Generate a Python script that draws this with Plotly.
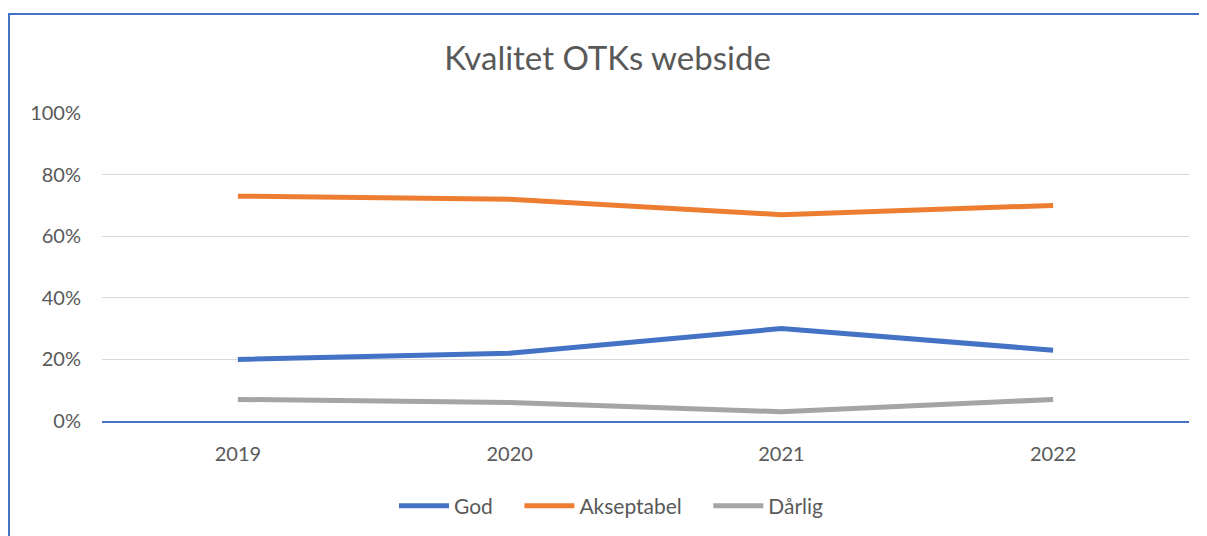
import plotly.graph_objects as go

years = ["2019", "2020", "2021", "2022"]
god = [0.20, 0.22, 0.30, 0.23]
akseptabel = [0.73, 0.72, 0.67, 0.70]
darlig = [0.07, 0.06, 0.03, 0.07]
series_names = ["God", "Akseptabel", "Dårlig"]

OFF = 8  # page body margin
W, H = 1207 - OFF, 536 - OFF
ML, MR, MT, MB = 102 - OFF, 18, 113 - OFF, 115
PW, PH = W - ML - MR, H - MT - MB

def px_x(px):  # page pixel -> paper
    return (px - OFF - ML) / PW

def px_y(py):
    return (H - MB - (py - OFF)) / PH

font_family = "Lato, Open Sans, sans-serif"
grey = "#595959"
pad = "\u00a0" * 4

fig = go.Figure()
for name, vals, col in zip(series_names, [god, akseptabel, darlig], ["#4472C4", "#ED7D31", "#A5A5A5"]):
    fig.add_trace(go.Scatter(x=years, y=vals, name=name + pad, mode="lines",
                             line=dict(color=col, width=5, shape="linear")))

fig.update_layout(
    width=W, height=H,
    margin=dict(l=ML, r=MR, t=MT, b=MB, autoexpand=False),
    paper_bgcolor="white", plot_bgcolor="white",
    font=dict(family=font_family, color=grey, size=20),
    title=dict(text="Kvalitet OTKs webside", x=0.5, xanchor="center", y=1 - (58 - OFF) / H, yanchor="middle",
               font=dict(size=33, color=grey, family=font_family)),
    showlegend=True,
    legend=dict(orientation="h", x=px_x(394), xanchor="left", y=px_y(506), yanchor="middle",
                font=dict(size=21, color=grey), itemwidth=50),
    xaxis=dict(type="category", range=[-0.5, 3.5], showgrid=False, showline=True,
               linecolor="#4472C4", linewidth=2, ticks="", ticklabelstandoff=14,
               tickfont=dict(size=20, color=grey), zeroline=False, fixedrange=True),
    yaxis=dict(range=[0, 1.0], tickvals=[0, 0.2, 0.4, 0.6, 0.8, 1.0], tickformat=".0%",
               showgrid=True, gridcolor="#D9D9D9", gridwidth=1, zeroline=False,
               showline=False, ticks="", ticklabelstandoff=20,
               tickfont=dict(size=20, color=grey), fixedrange=True),
    shapes=[
        dict(type="line", xref="paper", yref="paper", x0=px_x(9), x1=px_x(9), y0=px_y(13), y1=px_y(540),
             line=dict(color="#4472C4", width=2)),
        dict(type="line", xref="paper", yref="paper", x0=px_x(8), x1=px_x(1210), y0=px_y(14), y1=px_y(14),
             line=dict(color="#4472C4", width=2)),
    ],
)

fig.write_html("out.html")
